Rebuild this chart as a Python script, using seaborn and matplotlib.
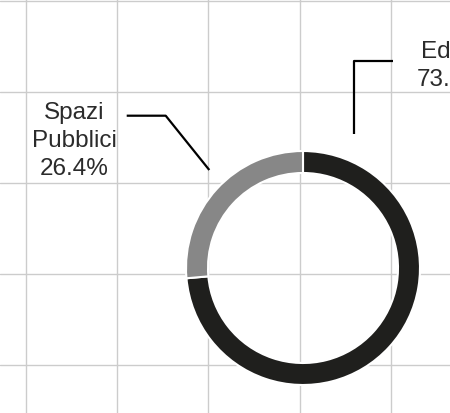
import numpy as np
import matplotlib
matplotlib.use("Agg")
import matplotlib.pyplot as plt
import seaborn as sns

# data
categories = ["Edifici", "Spazi\nPubblici"]
shares = [73.6, 26.4]
slice_colors = ["#1f1f1d", "#878787"]

sns.set_style("whitegrid")
plt.rcParams["font.family"] = ["Liberation Sans", "DejaVu Sans"]

W, H = 450, 414
fig = plt.figure(figsize=(W / 100, H / 100), dpi=100)
ax = fig.add_axes([0, 0, 1, 1])

# donut (axes units = pixels)
cx, cy, R = 303, H - 269, 117
ax.pie(shares, colors=slice_colors, startangle=90, counterclock=False,
       radius=R, center=(cx, cy), frame=True,
       wedgeprops=dict(width=22, edgecolor="white", linewidth=1.5))

ax.set_xlim(0, W)
ax.set_ylim(0, H)
ax.set_xticks(np.arange(26, W, 91.2))
ax.set_yticks(np.arange(48, H, 91.1))
ax.tick_params(labelbottom=False, labelleft=False, length=0)
ax.grid(True, color="#cccccc", linewidth=1)
for s in ax.spines.values():
    s.set_visible(False)

# labels with leader lines (right one runs off the edge, as in the original)
txt = dict(fontsize=17.5, color="#2b2b2b", ha="center", va="center",
           linespacing=1.35)
ax.text(74, H - 141, f"{categories[1]}\n{shares[1]}%", **txt)
ax.text(451, H - 66, f"{categories[0]}\n{shares[0]}%",
        multialignment="right", **txt)

ax.plot([126.7, 165.7, 209.3], [H - 116.7, H - 116.7, H - 171],
        color="black", lw=1.6, solid_capstyle="butt")
ax.plot([354, 354, 393.3], [H - 135, H - 61.7, H - 61.7],
        color="black", lw=1.6, solid_capstyle="butt")

plt.savefig("out.png", dpi=100)
